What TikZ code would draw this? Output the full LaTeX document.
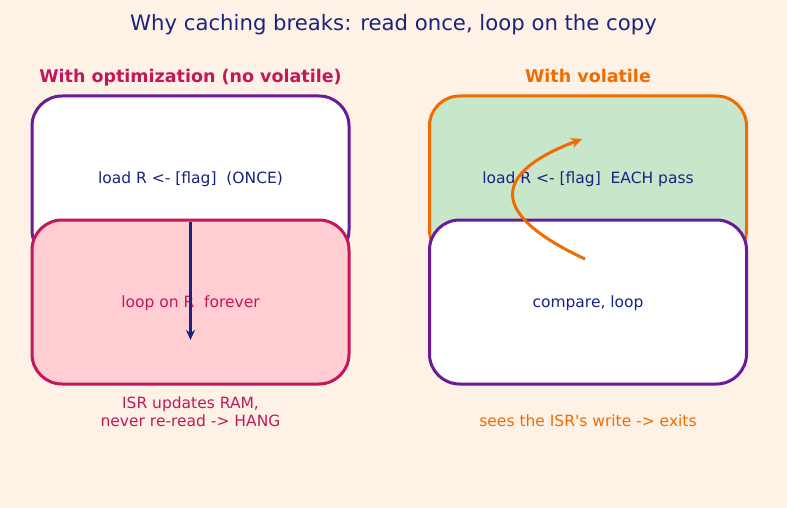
\documentclass[tikz,border=0pt]{standalone}
\usepackage{fontspec}
\setmainfont{DejaVu Sans}
\usetikzlibrary{arrows.meta}
\definecolor{bgc}{HTML}{FEF1E6}
\definecolor{navy}{HTML}{1A237E}
\definecolor{purp}{HTML}{6A1B9A}
\definecolor{crim}{HTML}{C2185B}
\definecolor{orng}{HTML}{EF6C00}
\definecolor{grn}{HTML}{C8E6C9}
\definecolor{pnk}{HTML}{FFCDD2}
\tikzset{
  box/.style={rounded corners=30pt, line width=3pt, minimum width=317pt, minimum height=164pt, inner sep=0pt},
  boxtext/.style={font=\fontsize{15.5}{17}\selectfont},
  sub/.style={font=\bfseries\fontsize{17.5}{20}\selectfont, text height=13pt, text depth=4pt},
  captext/.style={font=\fontsize{15.5}{17.5}\selectfont, align=center},
}
\begin{document}
\begin{tikzpicture}[x=1pt,y=-1pt]
\fill[bgc] (0,0) rectangle (787,508);
\useasboundingbox (0,0) rectangle (787,508);
\node[text=navy, font=\fontsize{21.2}{24}\selectfont] (title) at (393.5,24.5) {Why caching breaks: read once, loop on the copy};
\node[sub, text=crim] (subL) at (190.5,78.5) {With optimization (no volatile)};
\node[sub, text=orng] (subR) at (588,78.5) {With volatile};
% left
\node[box, draw=purp, fill=white] (L1) at (190.5,178) {};
\node[boxtext, text=navy] (L1t) at (190.5,179.5) {load R <- [flag]\ \ (ONCE)};
\node[box, draw=crim, fill=pnk] (L2) at (190.5,302) {};
\node[boxtext, text=crim] (L2t) at (190.5,303.5) {loop on R\ \ forever};
\coordinate (la) at (190.5,222);
\coordinate (lb) at (190.5,340);
\draw[navy, line width=2.5pt, -{Stealth[length=10pt,width=9pt]}] (la) -- (lb);
\node[captext, text=crim] (capL) at (190.5,411.5) {ISR updates RAM,\\never re-read -> HANG};
% right
\node[box, draw=orng, fill=grn] (R1) at (588,178) {};
\node[boxtext, text=navy] (R1t) at (588,179.5) {load R <- [flag]\ \ EACH pass};
\node[box, draw=purp, fill=white] (R2) at (588,302) {};
\node[boxtext, text=navy] (R2t) at (588,303.5) {compare, loop};
\coordinate (ra) at (585,259);
\coordinate (rb) at (582,139);
\draw[orng, line width=3pt, -{Stealth[length=11pt,width=10pt]}] (ra) .. controls (480,210) and (500,170) .. (rb);
\node[captext, text=orng] (capR) at (588,421) {sees the ISR\textquotesingle s write -> exits};
\end{tikzpicture}
\end{document}
